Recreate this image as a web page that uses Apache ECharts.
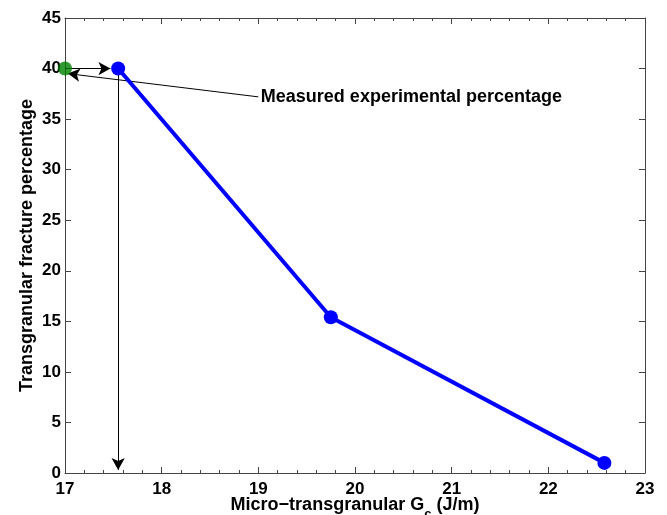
<!DOCTYPE html>
<html>
<head>
<meta charset="utf-8">
<script src="https://cdn.jsdelivr.net/npm/echarts@6/dist/echarts.min.js"></script>
<style>html,body{margin:0;padding:0;background:#fff}#c{width:667px;height:515px}</style>
</head>
<body>
<div id="c"></div>
<script>
var gcValues = [17.55, 19.75, 22.58];
var percentValues = [40, 15.4, 1];
var measuredPoint = [17, 40];
var xTicks = [17, 18, 19, 20, 21, 22, 23];
var yTicks = [0, 5, 10, 15, 20, 25, 30, 35, 40, 45];
var annotationText = 'Measured experimental percentage';
var arrowLines = [
  [[17, 40], [17.47, 40]],
  [[19.0, 37.2], [17.03, 39.5]],
  [[17.55, 40], [17.55, 0.3]]
];
var textAnchor = [19.0, 37.2];

var chart = echarts.init(document.getElementById('c'), null, {renderer: 'canvas'});
var FONT = 'Liberation Sans, Arial, Helvetica, sans-serif';
var axisCol = '#444';
function xAx(pos, showLabel) {
  return {
    type: 'value', position: pos, min: 17, max: 23, interval: 1,
    axisLine: {show: true, onZero: false, lineStyle: {color: axisCol, width: 1}},
    axisTick: {show: true, inside: true, length: 6, lineStyle: {color: axisCol}},
    minorTick: {show: true, splitNumber: 5, length: 3, lineStyle: {color: axisCol}},
    splitLine: {show: false},
    axisLabel: {show: showLabel, color: '#000', fontFamily: FONT, fontWeight: 'bold', fontSize: 17, margin: 8,
      formatter: function (v) { return xTicks.indexOf(v) >= 0 ? String(v) : ''; }},
    name: showLabel ? 'Micro\u2212transgranular G{sub|c} (J/m)' : '',
    nameLocation: 'middle', nameGap: 16, nameMoveOverlap: false,
    nameTextStyle: {color: '#000', fontFamily: FONT, fontWeight: 'bold', fontSize: 18,
      rich: {sub: {fontSize: 13, fontFamily: FONT, fontWeight: 'bold', color: '#000', padding: [19, 0, 0, 0]}}}
  };
}
function yAx(pos, showLabel) {
  return {
    type: 'value', position: pos, min: 0, max: 45, interval: 5,
    axisLine: {show: true, onZero: false, lineStyle: {color: axisCol, width: 1}},
    axisTick: {show: true, inside: true, length: 6, lineStyle: {color: axisCol}},
    splitLine: {show: false},
    axisLabel: {show: showLabel, color: '#000', fontFamily: FONT, fontWeight: 'bold', fontSize: 17, margin: 4,
      formatter: function (v) { return yTicks.indexOf(v) >= 0 ? String(v) : ''; }},
    name: showLabel ? 'Transgranular fracture percentage' : '',
    nameLocation: 'middle', nameGap: 29, nameMoveOverlap: false,
    nameTextStyle: {color: '#000', fontFamily: FONT, fontWeight: 'bold', fontSize: 18}
  };
}

var option = {
  animation: false,
  backgroundColor: '#fff',
  grid: {left: 65, right: 22, top: 18, bottom: 42, containLabel: false, outerBoundsMode: 'none'},
  xAxis: [xAx('bottom', true), xAx('top', false)],
  yAxis: [yAx('left', true), yAx('right', false)],
  series: [
    {
      type: 'line',
      data: gcValues.map(function (x, i) { return [x, percentValues[i]]; }),
      lineStyle: {color: '#0000ff', width: 4},
      itemStyle: {color: '#0000ff'},
      symbol: 'circle', symbolSize: 14, showSymbol: true, z: 5,
      markLine: {
        silent: true, animation: false,
        symbol: ['none', 'arrow'], symbolSize: [10, 12],
        lineStyle: {color: '#000', width: 1, type: 'solid'},
        label: {show: false},
        data: arrowLines.map(function (l) { return [{coord: l[0]}, {coord: l[1]}]; })
      },
      markPoint: {
        silent: true, animation: false,
        symbol: 'circle', symbolSize: 1, itemStyle: {color: 'rgba(0,0,0,0)'},
        label: {show: true, position: 'right', distance: 2, color: '#000', fontFamily: FONT,
          fontWeight: 'bold', fontSize: 18, formatter: annotationText},
        data: [{coord: textAnchor}]
      }
    },
    {
      type: 'scatter',
      data: [measuredPoint],
      symbol: 'circle', symbolSize: 14, itemStyle: {color: '#008000'}, z: 6
    }
  ]
};
chart.setOption(option);
</script>
</body>
</html>
